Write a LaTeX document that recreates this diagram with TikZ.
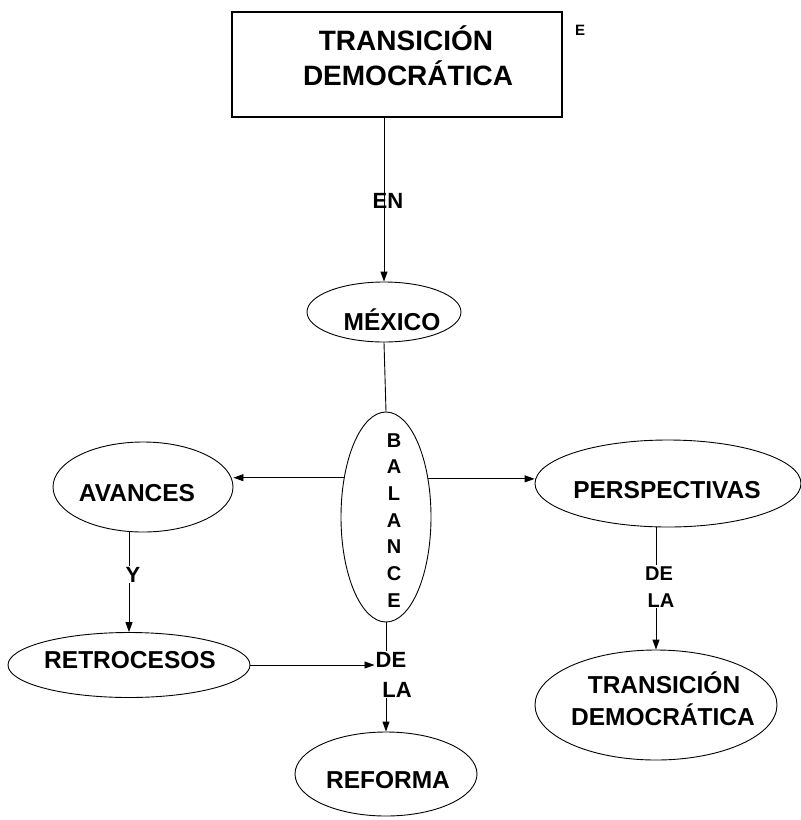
\documentclass[tikz,border=0pt]{standalone}
\usepackage{fontspec}
\setmainfont{Liberation Sans}
\usetikzlibrary{shapes.geometric,arrows.meta}
\begin{document}
\begin{tikzpicture}[x=1pt,y=-1pt,
  oval/.style={draw, ellipse, line width=0.9pt, inner sep=0pt},
  word/.style={anchor=base, inner sep=0pt, font=\bfseries\fontsize{24.5}{29}\selectfont},
  bigword/.style={anchor=base, inner sep=0pt, font=\bfseries\fontsize{28}{34}\selectfont},
  lbl/.style={anchor=base, inner sep=1pt, font=\bfseries\fontsize{22}{26}\selectfont},
  lblsm/.style={anchor=base, inner sep=1pt, font=\bfseries\fontsize{20}{24}\selectfont},
  letter/.style={anchor=base, inner sep=0pt, font=\bfseries\fontsize{20}{24}\selectfont},
  arr/.style={-{Triangle[length=10pt,width=7pt]}, line width=0.9pt},
  link/.style={line width=0.9pt}]
\useasboundingbox (0,0) rectangle (801,820);

% title box
\node[draw, line width=1.6pt, minimum width=330pt, minimum height=105pt, inner sep=0pt] (top) at (397,64.5) {};
\node[bigword] (t1) at (406,50) {TRANSICIÓN};
\node[bigword] (t2) at (408,85) {DEMOCRÁTICA};
\node[anchor=base, inner sep=0pt, font=\bfseries\fontsize{15}{18}\selectfont] (e) at (580,35) {E};

% ovals
\node[oval, minimum width=154pt, minimum height=60pt] (mex) at (384,312) {};
\node[word] (mext) at (392,330) {MÉXICO};

\node[oval, minimum width=90pt, minimum height=210pt] (bal) at (386,517) {};
\foreach \ch [count=\i from 0] in {B,A,L,A,N,C,E}
  \node[letter] (b\i) at (394,{447+26.67*\i}) {\ch};

\node[oval, minimum width=180pt, minimum height=90pt] (av) at (143,487) {};
\node[word] (avt) at (137,501) {AVANCES};

\node[oval, minimum width=242pt, minimum height=65pt] (ret) at (129,665) {};
\node[word] (rett) at (130,668) {RETROCESOS};

\node[oval, minimum width=182pt, minimum height=84pt] (ref) at (386,774) {};
\node[word] (reft) at (388,788) {REFORMA};

\node[oval, minimum width=266pt, minimum height=87pt] (per) at (668,483.5) {};
\node[word] (pert) at (667,498) {PERSPECTIVAS};

\node[oval, minimum width=242pt, minimum height=110pt] (tr) at (656,705) {};
\node[word] (tr1) at (664,693) {TRANSICIÓN};
\node[word] (tr2) at (663,725) {DEMOCRÁTICA};

% connectors
\draw[arr] (top.south -| mex.north) -- (mex.north);
\draw[link] (mex.south) -- (bal.north);
\draw[arr] (bal.137.8) -- (bal.137.8 -| av.east);
\draw[arr] (bal.42.2) -- (bal.42.2 -| per.west);

% link words (drawn over the connectors)
\node[lbl] (en) at (388,208) {EN};
\node[lbl] (y) at (133,582) {Y};
\node[lbl] (de1) at (391,667) {DE};
\node[lbl] (la1) at (397,697) {LA};
\node[lblsm] (de2) at (659,580) {DE};
\node[lblsm] (la2) at (661,607) {LA};

\draw[link] (ret.north |- av.south) -- (ret.north |- y.north);
\draw[arr] (ret.north |- y.south) -- (ret.north);
\draw[arr] (ret.east) -- (ret.east -| de1.west);
\draw[link] (bal.south) -- (bal.south |- de1.north);
\draw[arr] (bal.south |- la1.south) -- (ref.north);
\draw[link] (per.south -| tr.north) -- (tr.north |- de2.north);
\draw[arr] (tr.north |- la2.south) -- (tr.north);
\end{tikzpicture}
\end{document}
